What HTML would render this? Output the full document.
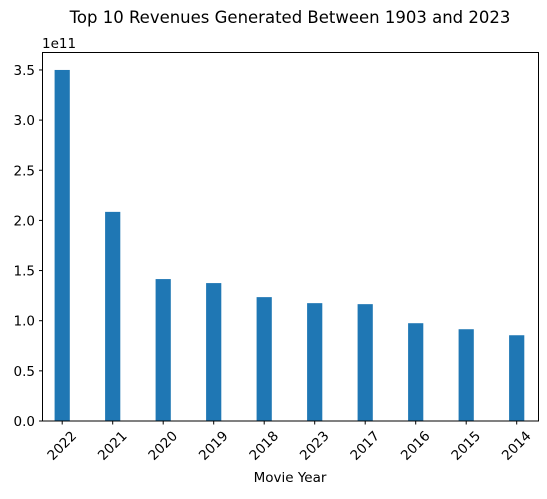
<!DOCTYPE html>
<html><head><meta charset="utf-8"><style>
body{margin:0;background:#fff;font-family:"DejaVu Sans","Liberation Sans",sans-serif}
</style></head><body>
<svg width="547" height="495" xmlns="http://www.w3.org/2000/svg" font-family="DejaVu Sans, Liberation Sans, sans-serif">
<text x="290" y="23" font-size="16.5" text-anchor="middle">Top 10 Revenues Generated Between 1903 and 2023</text>
<text x="42" y="48" font-size="13.5">1e11</text>
<g id="bars"></g>
<g id="axes"></g>
<rect x="42.5" y="52.5" width="496" height="368.5" fill="none" stroke="#000" stroke-width="1"/>
<text x="290" y="482" font-size="13.5" text-anchor="middle">Movie Year</text>
</svg>
<script>
const categories=["2022","2021","2020","2019","2018","2023","2017","2016","2015","2014"];
const revenues=[3.5,2.085,1.415,1.375,1.235,1.175,1.165,0.975,0.915,0.855];
const yTicks=[0,0.5,1.0,1.5,2.0,2.5,3.0,3.5];
const NS="http://www.w3.org/2000/svg";
const y=v=>421-v*100.3;
const x=i=>62.2+i*50.5;
const bars=document.getElementById('bars'),axes=document.getElementById('axes');
categories.forEach((c,i)=>{
 const r=document.createElementNS(NS,'rect');
 r.setAttribute('x',x(i)-7.6);r.setAttribute('width',15.2);
 r.setAttribute('y',y(revenues[i]));r.setAttribute('height',421-y(revenues[i]));
 r.setAttribute('fill','#1f77b4');
 
 
 bars.appendChild(r);
 const t=document.createElementNS(NS,'line');
 t.setAttribute('x1',x(i));t.setAttribute('x2',x(i));t.setAttribute('y1',421);t.setAttribute('y2',424.5);t.setAttribute('stroke','#000');
 
 
 axes.appendChild(t);
 const l=document.createElementNS(NS,'text');
 l.setAttribute('font-size','13.5');l.setAttribute('text-anchor','middle');l.setAttribute('dominant-baseline','central');
 l.setAttribute('transform',`translate(${x(i)},${446}) rotate(-45)`);
 l.textContent=c;
 
 
 axes.appendChild(l);
});
yTicks.forEach(v=>{
 const t=document.createElementNS(NS,'line');
 t.setAttribute('x1',39);t.setAttribute('x2',42.5);t.setAttribute('y1',y(v));t.setAttribute('y2',y(v));t.setAttribute('stroke','#000');
 
 
 axes.appendChild(t);
 const l=document.createElementNS(NS,'text');
 l.setAttribute('x',35);l.setAttribute('y',y(v)+5);l.setAttribute('font-size','13.5');l.setAttribute('text-anchor','end');
 l.textContent=v.toFixed(1);
 
 
 axes.appendChild(l);
});
</script>
</body></html>
